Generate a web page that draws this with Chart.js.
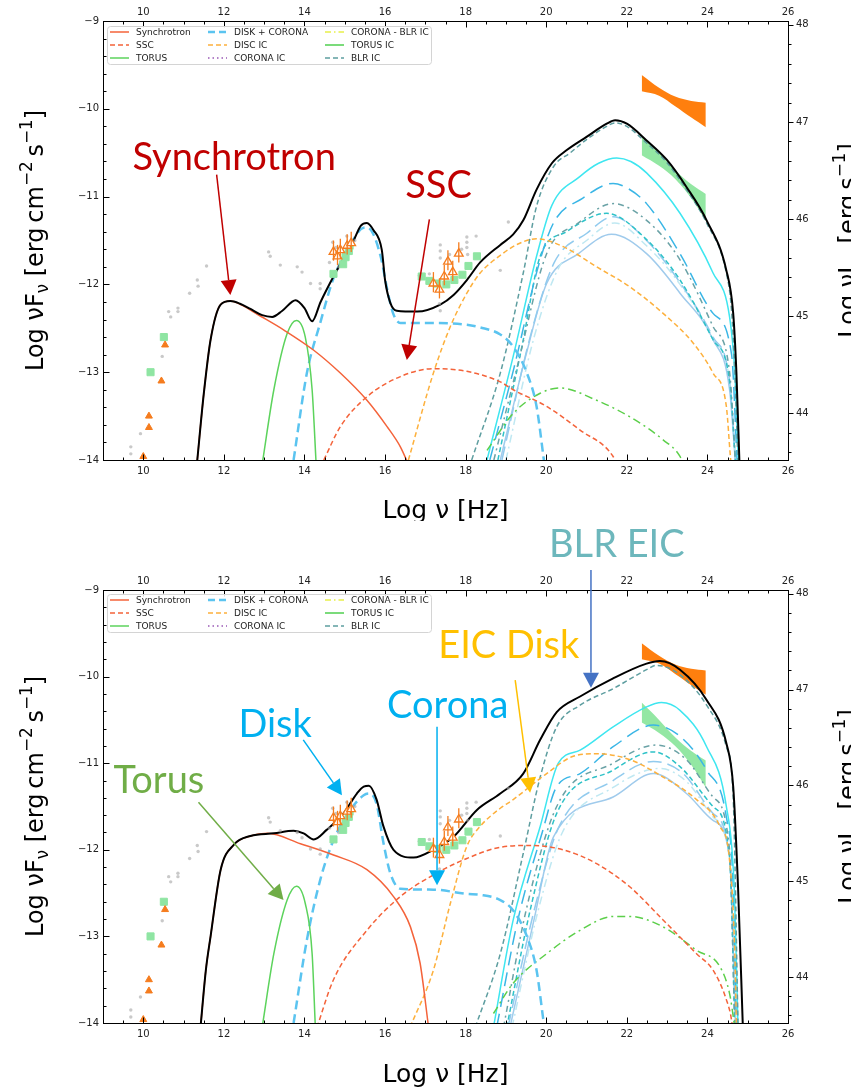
<!DOCTYPE html>
<html>
<head>
<meta charset="utf-8">
<script src="https://cdn.jsdelivr.net/npm/chart.js@4.4.1/dist/chart.umd.min.js"></script>
<style>
html, body { margin: 0; padding: 0; background: #fff; overflow: hidden; width: 851px; height: 1090px; }
canvas { position: absolute; left: 0; display: block; }
#topChart { top: 0; }
#botChart { top: 521px; }
</style>
</head>
<body>
<canvas id="topChart" width="851" height="521"></canvas>
<canvas id="botChart" width="851" height="569"></canvas>
<script>
// tick labels
const xTickValues = [10, 12, 14, 16, 18, 20, 22, 24, 26];
const yTickValues = [-14, -13, -12, -11, -10, -9];
const lumTickValues = [44, 45, 46, 47, 48];

// observations (same in both panels): [log nu, log nuFnu]
const archival = [[9.69,-13.85],[9.69,-13.93],[9.93,-13.70],[10.47,-12.82],[10.63,-12.31],[10.68,-12.37],[10.86,-12.27],[10.86,-12.31],
  [11.15,-12.10],[11.34,-11.95],[11.36,-12.02],[11.57,-11.79],[13.11,-11.63],[13.15,-11.68],[13.40,-11.78],[13.82,-11.80],[13.94,-11.86],
  [14.15,-11.99],[14.39,-11.99],[14.39,-12.05],[14.62,-11.75],[14.70,-11.52],[14.78,-11.58],[14.85,-11.80],[14.95,-11.70],[15.05,-11.45],
  [15.15,-11.62],[15.25,-11.50],[16.85,-11.90],[17.10,-11.88],[17.37,-11.55],[17.37,-11.62],[17.37,-11.70],[17.35,-12.22],[17.37,-12.30],
  [17.60,-11.66],[17.62,-11.75],[17.90,-11.60],[18.03,-11.46],[18.03,-11.52],[18.03,-11.58],[18.05,-11.66],[18.26,-11.45],[18.86,-11.84],[19.06,-11.29]];
const radioTri = [[10.0,-13.96],[10.14,-13.63],[10.14,-13.50],[10.45,-13.10],[10.54,-12.69]];
const simSquares = [[10.18,-13.0],[10.51,-12.6],[14.72,-11.88],[14.96,-11.77],[15.02,-11.69],[15.1,-11.62],[15.12,-11.56],
  [16.91,-11.91],[17.1,-11.96],[17.3,-11.99],[17.52,-12.0],[17.72,-11.95],[17.92,-11.89],[18.07,-11.79],[18.28,-11.68]];
const openTri = [[14.72,-11.63],[14.82,-11.68],[14.89,-11.61],[15.06,-11.56],[15.16,-11.53],[17.2,-11.99],[17.35,-12.06],
  [17.47,-11.91],[17.56,-11.74],[17.68,-11.86],[17.83,-11.65]];
const bowX = [22.37, 22.8, 23.2, 23.6, 23.96];
const fermiUp = [-9.615, -9.76, -9.86, -9.91, -9.93];
const fermiLo = [-9.80, -9.85, -9.97, -10.10, -10.21];
const greenUp = [-10.30, -10.50, -10.70, -10.86, -10.97];
const greenLo = [-10.53, -10.65, -10.80, -11.02, -11.28];

// model, upper panel
const aTotal = [[11.34,-14.0],[11.5,-13.25],[11.67,-12.63],[11.92,-12.23],[12.16,-12.19],[12.4,-12.22],[12.66,-12.28],[12.95,-12.35],
  [13.2,-12.37],[13.45,-12.3],[13.78,-12.18],[14.0,-12.27],[14.19,-12.42],[14.4,-12.2],[14.72,-11.91],[15.0,-11.68],[15.2,-11.52],
  [15.4,-11.33],[15.55,-11.30],[15.71,-11.38],[15.92,-11.61],[16.0,-11.95],[16.13,-12.21],[16.29,-12.30],[16.8,-12.31],[17.37,-12.23],
  [17.7,-12.12],[18.03,-11.95],[18.36,-11.75],[18.86,-11.55],[19.18,-11.43],[19.43,-11.27],[19.76,-10.92],[20.14,-10.62],[20.51,-10.47],
  [21.0,-10.32],[21.5,-10.17],[21.71,-10.13],[22.0,-10.17],[22.49,-10.36],[22.99,-10.58],[23.48,-10.89],[23.98,-11.27],[24.47,-11.84],
  [24.64,-12.33],[24.72,-13.01],[24.80,-14.1]];
const aSync = [[11.34,-14.0],[11.5,-13.25],[11.67,-12.63],[11.92,-12.23],[12.16,-12.19],[12.5,-12.25],[12.83,-12.34],[13.49,-12.52],
  [14.23,-12.75],[14.89,-13.01],[15.55,-13.32],[16.05,-13.62],[16.38,-13.85],[16.58,-14.05]];
const aSSC = [[14.48,-14.0],[14.89,-13.62],[15.55,-13.28],[16.38,-13.05],[17.2,-12.96],[18.03,-12.99],[18.86,-13.11],[19.18,-13.2],
  [20.01,-13.39],[20.84,-13.66],[21.66,-13.96],[21.75,-14.05]];
const aTorus = [[12.95,-14.05],[13.24,-13.2],[13.57,-12.56],[13.8,-12.41],[14.02,-12.6],[14.19,-13.2],[14.29,-14.05]];
const aDisk = [[13.73,-14.0],[14.06,-13.01],[14.39,-12.44],[14.72,-11.93],[15.0,-11.66],[15.2,-11.5],[15.4,-11.37],[15.55,-11.35],
  [15.7,-11.42],[15.9,-11.7],[16.05,-12.05],[16.2,-12.33],[16.38,-12.44],[17.2,-12.44],[18.03,-12.46],[18.36,-12.49],[18.86,-12.57],
  [19.18,-12.71],[19.52,-13.01],[19.76,-13.39],[19.93,-13.96],[19.97,-14.1]];
const aDiscIC = [[16.58,-14.0],[17.2,-13.01],[17.62,-12.48],[18.03,-12.1],[18.36,-11.87],[18.86,-11.67],[19.3,-11.54],[19.76,-11.48],
  [20.42,-11.57],[21.25,-11.8],[22.08,-12.03],[22.9,-12.33],[23.65,-12.67],[24.14,-13.01],[24.47,-13.39],[24.57,-13.96],[24.6,-14.1]];
const aBLR = [[18.15,-14.0],[18.86,-13.01],[19.43,-11.87],[19.76,-11.11],[20.18,-10.66],[20.6,-10.5],[21.0,-10.35],[21.5,-10.2],
  [21.71,-10.16],[22.0,-10.2],[22.49,-10.39],[22.99,-10.61],[23.48,-10.92],[23.98,-11.3],[24.47,-11.87],[24.6,-12.3],[24.68,-13.0],[24.76,-14.05]];
const aTorusIC = [[18.53,-13.89],[19.18,-13.47],[19.85,-13.24],[20.34,-13.18],[21.25,-13.32],[22.08,-13.51],[22.9,-13.77],[23.32,-13.96],[23.4,-14.05]];
const aCyan = [[18.53,-14.0],[19.18,-12.82],[19.76,-11.68],[20.14,-11.1],[20.84,-10.77],[21.3,-10.62],[21.75,-10.56],[22.1,-10.6],
  [22.49,-10.73],[23.32,-11.19],[24.14,-11.87],[24.55,-12.37],[24.68,-13.01],[24.77,-14.05]];
const aBlueLong = [[18.6,-14.0],[19.2,-12.95],[19.8,-11.8],[20.18,-11.3],[20.9,-11.02],[21.66,-10.85],[22.0,-10.9],[22.49,-11.08],
  [23.32,-11.65],[24.14,-12.33],[24.6,-12.8],[24.74,-14.05]];
const aTealDashDot = [[18.7,-14.0],[19.3,-12.9],[20.01,-11.65],[20.8,-11.3],[21.66,-11.08],[22.49,-11.27],[23.32,-11.72],[24.14,-12.48],[24.55,-13.0],[24.7,-14.05]];
const aTurq = [[18.8,-14.0],[19.4,-12.7],[19.85,-11.68],[20.5,-11.4],[21.5,-11.19],[22.49,-11.49],[23.32,-11.95],[24.14,-12.63],[24.55,-13.1],[24.7,-14.05]];
const aLightLong = [[18.9,-14.0],[19.6,-12.6],[20.2,-11.75],[21.0,-11.42],[21.66,-11.23],[22.49,-11.5],[23.32,-11.98],[24.14,-12.6],[24.55,-13.1],[24.7,-14.05]];
const aLightDashDot = [[19.0,-14.0],[19.7,-12.6],[20.3,-11.82],[21.0,-11.5],[21.7,-11.3],[22.49,-11.56],[23.32,-12.0],[24.14,-12.62],[24.55,-13.1],[24.72,-14.05]];
const aSteel = [[18.86,-14.0],[19.5,-12.8],[20.01,-11.99],[20.8,-11.65],[21.62,-11.43],[22.49,-11.65],[23.32,-12.1],[24.14,-12.63],[24.55,-13.2],[24.7,-14.05]];

// model, lower panel
const bTotal = [[11.42,-14.05],[11.55,-13.4],[11.67,-13.0],[11.92,-12.23],[12.25,-11.94],[12.66,-11.84],[13.24,-11.81],[13.73,-11.78],
  [13.98,-11.81],[14.23,-11.88],[14.55,-11.77],[14.97,-11.58],[15.3,-11.35],[15.47,-11.27],[15.6,-11.26],[15.79,-11.42],[15.96,-11.73],
  [16.21,-12.0],[16.71,-12.09],[17.2,-12.0],[17.7,-11.85],[18.28,-11.54],[18.86,-11.35],[19.43,-11.12],[19.85,-10.73],[20.26,-10.41],
  [20.84,-10.23],[21.66,-10.02],[22.49,-9.85],[22.82,-9.82],[23.32,-9.92],[23.98,-10.27],[24.47,-10.77],[24.64,-11.27],[24.76,-12.43],[24.88,-14.05]];
const bSync = [[11.42,-14.05],[11.55,-13.4],[11.67,-13.0],[11.92,-12.23],[12.25,-11.94],[12.66,-11.84],[13.08,-11.81],[13.9,-11.93],
  [14.72,-12.06],[15.55,-12.23],[16.21,-12.54],[16.63,-12.89],[16.87,-13.31],[17.08,-14.05]];
const bSSC = [[14.31,-14.05],[14.72,-13.5],[15.55,-12.93],[16.38,-12.54],[17.2,-12.29],[18.03,-12.1],[18.86,-11.97],[19.6,-11.95],
  [20.42,-12.0],[21.25,-12.16],[22.08,-12.43],[22.9,-12.81],[23.73,-13.2],[24.14,-13.39],[24.47,-13.73],[24.6,-13.97],[24.63,-14.1]];
const bTorus = [[12.95,-14.05],[13.24,-13.2],[13.57,-12.58],[13.8,-12.42],[14.02,-12.62],[14.19,-13.2],[14.27,-14.05]];
const bDisk = [[13.73,-14.0],[14.06,-13.04],[14.39,-12.35],[14.72,-11.89],[15.14,-11.54],[15.47,-11.37],[15.6,-11.35],[15.79,-11.47],
  [15.96,-11.92],[16.13,-12.27],[16.38,-12.45],[17.2,-12.46],[18.03,-12.51],[18.36,-12.52],[18.86,-12.58],[19.18,-12.7],[19.52,-13.0],
  [19.76,-13.39],[19.93,-13.97],[19.97,-14.1]];
const bDiscIC = [[16.62,-14.05],[17.2,-13.39],[17.62,-12.62],[18.03,-11.96],[18.36,-11.73],[18.86,-11.52],[19.18,-11.42],[20.01,-11.12],
  [20.67,-10.92],[21.25,-10.89],[22.08,-10.96],[22.9,-11.16],[23.73,-11.42],[24.31,-11.73],[24.55,-12.12],[24.68,-13.2],[24.72,-14.05]];
const bBLR = [[18.24,-14.05],[18.86,-13.2],[19.43,-12.04],[19.85,-11.16],[20.26,-10.58],[20.84,-10.33],[21.66,-10.14],[22.49,-9.92],
  [22.73,-9.87],[23.32,-9.98],[23.98,-10.33],[24.47,-10.81],[24.64,-11.4],[24.76,-14.05]];
const bTorusIC = [[18.69,-13.89],[19.18,-13.54],[20.01,-13.2],[20.84,-12.93],[21.66,-12.77],[22.08,-12.77],[22.9,-12.89],[23.73,-13.16],
  [24.31,-13.35],[24.55,-13.66],[24.68,-14.05]];
const bCyan = [[18.69,-14.05],[19.18,-12.81],[19.85,-11.73],[20.3,-11.0],[20.84,-10.85],[21.66,-10.58],[22.49,-10.35],[22.86,-10.3],
  [23.32,-10.39],[23.98,-10.81],[24.47,-11.5],[24.66,-12.39],[24.76,-14.05]];
const bBlueLong = [[18.77,-14.05],[19.3,-12.8],[19.9,-11.8],[20.26,-11.27],[20.84,-11.12],[21.66,-10.81],[22.66,-10.56],[23.32,-10.69],
  [23.98,-11.08],[24.47,-11.62],[24.64,-12.43],[24.72,-14.05]];
const bTealDashDot = [[18.94,-14.05],[19.5,-12.7],[20.26,-11.5],[21.66,-11.0],[22.73,-10.79],[23.48,-10.96],[24.14,-11.39],[24.55,-12.0],[24.68,-14.05]];
const bTurq = [[19.02,-14.05],[19.6,-12.7],[20.26,-11.58],[21.66,-11.08],[22.66,-10.87],[23.32,-11.04],[24.14,-11.5],[24.55,-12.08],[24.68,-14.05]];
const bLightLong = [[19.05,-14.05],[19.7,-12.7],[20.3,-11.75],[21.66,-11.2],[22.66,-10.98],[23.4,-11.12],[24.14,-11.58],[24.55,-12.1],[24.7,-14.05]];
const bLightDashDot = [[19.15,-14.05],[19.8,-12.7],[20.4,-11.8],[21.66,-11.28],[22.82,-11.06],[23.5,-11.22],[24.14,-11.62],[24.55,-12.12],[24.72,-14.05]];
const bSteel = [[19.1,-14.05],[19.7,-12.8],[20.18,-11.85],[21.66,-11.39],[22.66,-11.12],[23.48,-11.35],[24.14,-11.66],[24.55,-12.08],[24.7,-14.05]];

// legend entries and annotations
const legendLabels = ['Synchrotron', 'SSC', 'TORUS', 'DISK + CORONA', 'DISC IC', 'CORONA IC', 'CORONA - BLR IC', 'TORUS IC', 'BLR IC'];
const legendStyles = [
  ['#f4633a', 1.5, []], ['#f4633a', 1.5, [5, 3]], ['#5cd35c', 1.5, []],
  ['#5bc4f0', 2.5, [7, 4]], ['#fdb03c', 1.5, [5, 3]], ['#9b59b6', 1.5, [1.5, 3]],
  ['#e8f04a', 1.5, [6, 3, 1.5, 3]], ['#4fcf4f', 1.5, []], ['#5e9ea0', 1.5, [5, 3]]
];
const annotTop = [
  { text: 'Synchrotron', color: '#c00000', arrow: '#c00000', at: [9.73, -10.70], from: [11.82, -10.75], to: [12.16, -12.12] },
  { text: 'SSC', color: '#c00000', arrow: '#c00000', at: [16.5, -11.02], from: [17.1, -11.26], to: [16.54, -12.86] }
];
const annotBottom = [
  { text: 'BLR EIC', color: '#6db7bc', arrow: '#4472c4', at: [20.07, -8.62], from: [21.11, -8.77], to: [21.11, -10.13] },
  { text: 'EIC Disk', color: '#ffc000', arrow: '#ffc000', at: [17.32, -9.79], from: [19.23, -10.04], to: [19.6, -11.34] },
  { text: 'Corona', color: '#00b0f0', arrow: '#00b0f0', at: [16.05, -10.48], from: [17.29, -10.58], to: [17.29, -12.41] },
  { text: 'Disk', color: '#00b0f0', arrow: '#00b0f0', at: [12.36, -10.70], from: [13.97, -10.73], to: [14.93, -11.37] },
  { text: 'Torus', color: '#70ad47', arrow: '#70ad47', at: [9.26, -11.34], from: [11.37, -11.45], to: [13.48, -12.58] }
];

const xy = arr => arr.map(p => ({ x: p[0], y: p[1] }));

function curve(arr, color, width, dash) {
  return {
    data: xy(arr), borderColor: color, borderWidth: width, borderDash: dash || [],
    pointRadius: 0, fill: false, cubicInterpolationMode: 'monotone', yAxisID: 'y'
  };
}
function dots(arr, style, r, fillC, lineC, extra) {
  return Object.assign({
    data: xy(arr), showLine: false, pointStyle: style, pointRadius: r,
    pointBackgroundColor: fillC, pointBorderColor: lineC, pointBorderWidth: 1, yAxisID: 'y'
  }, extra || {});
}
function band(up, lo, color) {
  return [
    { data: xy(bowX.map((x, i) => [x, up[i]])), borderWidth: 0, pointRadius: 0, fill: false, tension: 0.35, yAxisID: 'y' },
    { data: xy(bowX.map((x, i) => [x, lo[i]])), borderWidth: 0, pointRadius: 0, fill: '-1', backgroundColor: color, tension: 0.35, yAxisID: 'y' }
  ];
}

function panelDatasets(m) {
  return [
    dots(openTri, 'triangle', 5, '#ffffff', '#f57c1e', { errBar: 0.1, pointBorderWidth: 1.3 }),
    dots(radioTri, 'triangle', 4, '#f57c1e', '#f57c1e'),
    dots(simSquares, 'rect', 5, '#8fe5a3', '#8fe5a3'),
    dots(archival, 'circle', 1.7, 'rgba(165,165,165,0.6)', 'rgba(165,165,165,0)'),
    curve(m.total, '#000000', 2),
    curve(m.sync, '#f4633a', 1.5),
    curve(m.ssc, '#f4633a', 1.5, [5, 3]),
    curve(m.torus, '#5cd35c', 1.5),
    curve(m.disk, '#5bc4f0', 2.5, [9, 5]),
    curve(m.discIC, '#fdb03c', 1.5, [5, 3]),
    curve(m.blr, '#5e9ea0', 1.5, [5, 3]),
    curve(m.torusIC, '#5ccf4a', 1.5, [8, 4, 2, 4]),
    curve(m.cyan, '#3ee6f0', 1.5),
    curve(m.blueLong, '#3ab6e6', 1.5, [14, 7]),
    curve(m.tealDashDot, '#6aa2a6', 1.5, [6, 4, 2, 4]),
    curve(m.turq, '#2ec2c8', 1.5, [5, 3]),
    curve(m.lightLong, '#92cbee', 1.5, [14, 6]),
    curve(m.lightDashDot, '#bfe8f2', 1.5, [8, 4, 2, 4]),
    curve(m.steel, '#a0cbec', 1.5),
    ...band(fermiUp, fermiLo, '#ff7f0e'),
    ...band(greenUp, greenLo, 'rgba(120,225,140,0.8)')
  ];
}

function richText(ctx, parts, x, y, size, rot) {
  ctx.save();
  ctx.translate(x, y);
  ctx.rotate(rot);
  ctx.textBaseline = 'alphabetic';
  ctx.textAlign = 'left';
  const fontOf = p => (p[1] ? size * 0.7 : size) + 'px "DejaVu Sans"';
  let total = 0;
  const widths = parts.map(p => { ctx.font = fontOf(p); const w = ctx.measureText(p[0]).width; total += w; return w; });
  let cx = -total / 2;
  parts.forEach((p, i) => {
    ctx.font = fontOf(p);
    const dy = p[1] === 1 ? -size * 0.45 : (p[1] === -1 ? size * 0.2 : 0);
    ctx.fillText(p[0], cx, dy);
    cx += widths[i];
  });
  ctx.restore();
}

const sedPlugin = {
  id: 'sed',
  afterDatasetsDraw(chart) {
    const { ctx, scales } = chart;
    ctx.save();
    ctx.beginPath();
    ctx.rect(chart.chartArea.left, chart.chartArea.top, chart.chartArea.right - chart.chartArea.left, chart.chartArea.bottom - chart.chartArea.top);
    ctx.clip();
    chart.data.datasets.forEach(ds => {
      if (!ds.errBar) return;
      ctx.strokeStyle = '#f57c1e';
      ctx.lineWidth = 1.3;
      ds.data.forEach(p => {
        const px = scales.x.getPixelForValue(p.x);
        ctx.beginPath();
        ctx.moveTo(px, scales.y.getPixelForValue(p.y - ds.errBar));
        ctx.lineTo(px, scales.y.getPixelForValue(p.y + ds.errBar * 1.3));
        ctx.stroke();
      });
    });
    ctx.restore();
  },
  afterDraw(chart) {
    const { ctx, chartArea: a, scales } = chart;
    const o = chart.options.plugins.sed;
    ctx.save();
    // frame and ticks
    ctx.strokeStyle = '#000';
    ctx.lineWidth = 1;
    const L = Math.round(a.left) + 0.5, R = Math.round(a.right) + 0.5, T = Math.round(a.top) + 0.5, B = Math.round(a.bottom) + 0.5;
    ctx.strokeRect(L, T, R - L, B - T);
    ctx.beginPath();
    for (let k = 18; k <= 52; k++) {
      const v = k / 2;
      const p = Math.round(scales.x.getPixelForValue(v)) + 0.5;
      const len = (k % 4 === 0) ? 6 : 3;
      ctx.moveTo(p, B); ctx.lineTo(p, B - len);
      ctx.moveTo(p, T); ctx.lineTo(p, T + len);
    }
    for (let k = -70; k <= -45; k++) {
      const p = Math.round(scales.y.getPixelForValue(k / 5)) + 0.5;
      const len = (k % 5 === 0) ? 6 : 3;
      ctx.moveTo(L, p); ctx.lineTo(L + len, p);
    }
    for (let k = 218; k <= 240; k++) {
      const p = Math.round(scales.y2.getPixelForValue(k / 5)) + 0.5;
      const len = (k % 5 === 0) ? 5 : 3;
      ctx.moveTo(R, p); ctx.lineTo(R + len, p);
    }
    ctx.stroke();

    // legend
    const lx = a.left + 4, ly = a.top + o.legendDy;
    ctx.fillStyle = 'rgba(255,255,255,0.85)';
    ctx.strokeStyle = '#d4d4d4';
    ctx.beginPath();
    ctx.roundRect(lx + 0.5, ly + 0.5, 324, 38, 3);
    ctx.fill();
    ctx.stroke();
    ctx.font = '9px "DejaVu Sans"';
    ctx.textBaseline = 'middle';
    ctx.textAlign = 'left';
    const colX = [lx + 3, lx + 101, lx + 218];
    legendLabels.forEach((lab, i) => {
      const c = Math.floor(i / 3), r = i % 3;
      const yy = ly + 6 + r * 13;
      const st = legendStyles[i];
      ctx.strokeStyle = st[0];
      ctx.lineWidth = st[1];
      ctx.setLineDash(st[2]);
      ctx.beginPath();
      ctx.moveTo(colX[c], yy); ctx.lineTo(colX[c] + 19, yy);
      ctx.stroke();
      ctx.setLineDash([]);
      ctx.fillStyle = '#222';
      ctx.fillText(lab, colX[c] + 26, yy + 0.5);
    });

    // annotations
    o.annotations.forEach(an => {
      const fx = scales.x.getPixelForValue(an.from[0]), fy = scales.y.getPixelForValue(an.from[1]);
      const tx = scales.x.getPixelForValue(an.to[0]), ty = scales.y.getPixelForValue(an.to[1]);
      const ang = Math.atan2(ty - fy, tx - fx);
      const hl = 15, hw = 8;
      const bx = tx - hl * Math.cos(ang), by = ty - hl * Math.sin(ang);
      ctx.strokeStyle = an.arrow;
      ctx.fillStyle = an.arrow;
      ctx.lineWidth = 1.5;
      ctx.beginPath(); ctx.moveTo(fx, fy); ctx.lineTo(bx, by); ctx.stroke();
      ctx.beginPath();
      ctx.moveTo(tx, ty);
      ctx.lineTo(bx + hw * Math.sin(ang), by - hw * Math.cos(ang));
      ctx.lineTo(bx - hw * Math.sin(ang), by + hw * Math.cos(ang));
      ctx.closePath();
      ctx.fill();
      ctx.font = '38px Lato';
      ctx.textBaseline = 'alphabetic';
      ctx.fillStyle = an.color;
      ctx.fillText(an.text, scales.x.getPixelForValue(an.at[0]), scales.y.getPixelForValue(an.at[1]));
    });

    // axis titles
    ctx.fillStyle = '#000';
    const cy = (a.top + a.bottom) / 2;
    richText(ctx, [['Log \u03BDF', 0], ['\u03BD', -1], [' [erg\u2009cm', 0], ['\u22122', 1], ['\u2009s', 0], ['\u22121', 1], [']', 0]], 43, cy, 24, -Math.PI / 2);
    richText(ctx, [['Log \u03BDL', 0], ['\u03BD', -1], [' [erg\u2009s', 0], ['\u22121', 1], [']', 0]], 856, cy, 24, -Math.PI / 2);
    richText(ctx, [['Log \u03BD [Hz]', 0]], (a.left + a.right) / 2, o.xTitleY, 25, 0);
    ctx.restore();
  }
};

function makeChart(id, models, cfg) {
  const tickFont = { family: 'DejaVu Sans', size: 10 };
  const setTicks = vals => scale => { scale.ticks = vals.map(v => ({ value: v })); };
  const minus = v => (v < 0 ? '\u2212' + Math.abs(v) : String(v));
  return new Chart(document.getElementById(id), {
    type: 'line',
    data: { datasets: panelDatasets(models) },
    options: {
      responsive: false,
      animation: false,
      devicePixelRatio: 1,
      events: [],
      layout: { padding: 0 },
      plugins: {
        legend: { display: false },
        tooltip: { enabled: false },
        sed: cfg
      },
      scales: {
        x: {
          type: 'linear', position: 'bottom', min: 9, max: 26,
          afterBuildTicks: setTicks(xTickValues),
          afterFit: s => { s.height = cfg.bottomH; },
          grid: { display: false, drawTicks: false }, border: { display: false },
          ticks: { font: tickFont, color: '#222', padding: 5, maxRotation: 0, autoSkip: false }
        },
        x2: {
          type: 'linear', position: 'top', min: 9, max: 26,
          afterBuildTicks: setTicks(xTickValues),
          afterFit: s => { s.height = cfg.topH; },
          grid: { display: false, drawTicks: false }, border: { display: false },
          ticks: { font: tickFont, color: '#222', padding: 3, maxRotation: 0, autoSkip: false }
        },
        y: {
          type: 'linear', position: 'left', min: -14, max: -9,
          afterBuildTicks: setTicks(yTickValues),
          afterFit: s => { s.width = 103; },
          grid: { display: false, drawTicks: false }, border: { display: false },
          ticks: { font: tickFont, color: '#222', padding: 4, callback: minus }
        },
        y2: {
          type: 'linear', position: 'right', min: 43.52, max: 48.04,
          afterBuildTicks: setTicks(lumTickValues),
          afterFit: s => { s.width = 63; },
          grid: { display: false, drawTicks: false }, border: { display: false },
          ticks: { font: tickFont, color: '#222', padding: 8 }
        }
      }
    },
    plugins: [sedPlugin]
  });
}

makeChart('topChart', {
  total: aTotal, sync: aSync, ssc: aSSC, torus: aTorus, disk: aDisk, discIC: aDiscIC, blr: aBLR, torusIC: aTorusIC,
  cyan: aCyan, blueLong: aBlueLong, tealDashDot: aTealDashDot, turq: aTurq, lightLong: aLightLong, lightDashDot: aLightDashDot, steel: aSteel
}, { topH: 21, bottomH: 61, legendDy: 5, xTitleY: 518, annotations: annotTop });

makeChart('botChart', {
  total: bTotal, sync: bSync, ssc: bSSC, torus: bTorus, disk: bDisk, discIC: bDiscIC, blr: bBLR, torusIC: bTorusIC,
  cyan: bCyan, blueLong: bBlueLong, tealDashDot: bTealDashDot, turq: bTurq, lightLong: bLightLong, lightDashDot: bLightDashDot, steel: bSteel
}, { topH: 69, bottomH: 67, legendDy: 4, xTitleY: 561, annotations: annotBottom });
</script>
</body>
</html>
